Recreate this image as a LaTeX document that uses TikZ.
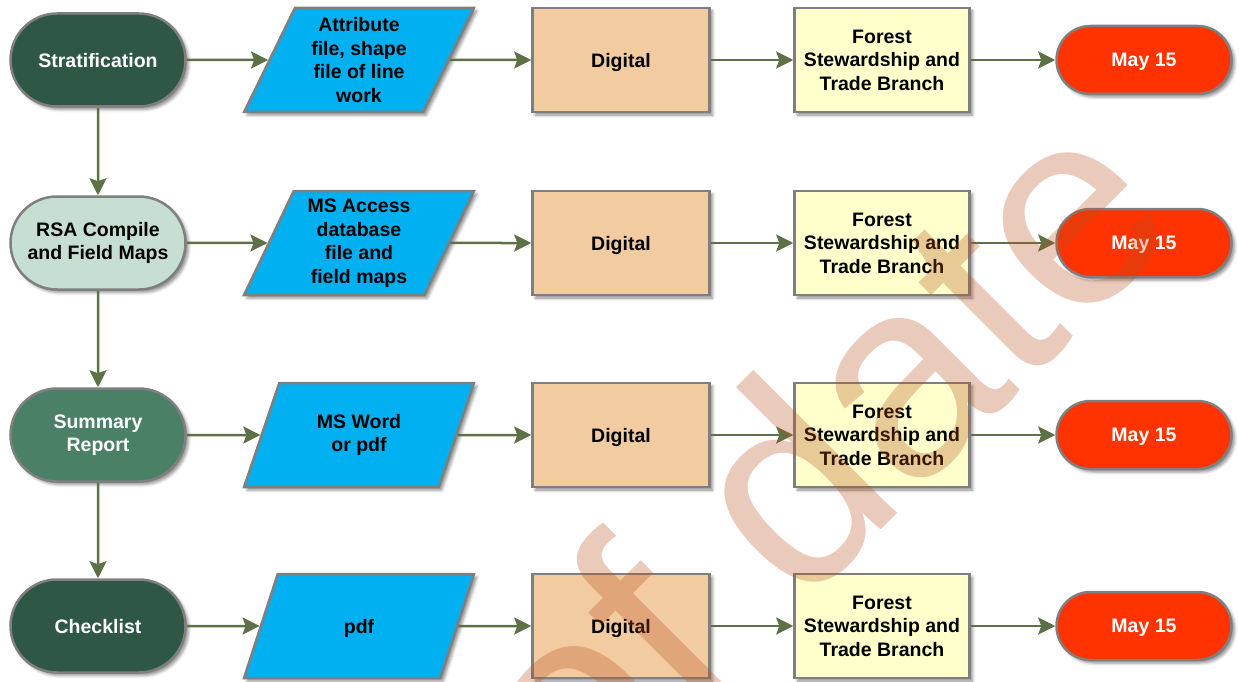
\documentclass[tikz,border=0pt]{standalone}
\usepackage{fontspec}
\setmainfont{Liberation Sans}
\usetikzlibrary{shapes.misc,shapes.geometric,arrows.meta,shadows.blur}

\definecolor{dkgreen}{HTML}{2E5746}
\definecolor{mint}{HTML}{C6DFD2}
\definecolor{midgreen}{HTML}{4A8066}
\definecolor{cyanfill}{HTML}{00B0F0}
\definecolor{peach}{HTML}{F3CBA0}
\definecolor{ltyellow}{HTML}{FFFFCC}
\definecolor{datered}{HTML}{FF3300}
\definecolor{bordergray}{HTML}{7F7F7F}
\definecolor{arrowgreen}{HTML}{5E7146}
\definecolor{wmcolor}{HTML}{B5501E}

\tikzset{
  boxbase/.style={draw=bordergray, line width=2.5pt, align=center, inner sep=0pt,
    font=\bfseries\fontsize{19.5}{23.5}\selectfont,
    blur shadow={shadow xshift=3pt, shadow yshift=-3pt, shadow blur radius=3pt, shadow opacity=45}},
  oneline/.style={text depth=0pt},
  term/.style={boxbase, rounded rectangle, minimum width=175pt, minimum height=93pt},
  iobox/.style={boxbase, trapezium, trapezium left angle=66, trapezium right angle=114,
    trapezium stretches=true, minimum width=230pt, minimum height=104pt, fill=cyanfill},
  digibox/.style={boxbase, oneline, rectangle, minimum width=177pt, minimum height=104pt, fill=peach},
  branchbox/.style={boxbase, rectangle, minimum width=175pt, minimum height=104pt, fill=ltyellow},
  datebox/.style={boxbase, oneline, rounded rectangle, minimum width=175pt, minimum height=68pt, fill=datered, text=white},
  flow/.style={draw=arrowgreen, line width=2.5pt, -{Stealth[length=17pt,width=17pt,inset=3pt]}},
}

\begin{document}
\begin{tikzpicture}[x=1pt,y=-1pt]
\useasboundingbox (0,0) rectangle (1239,682);

% column 1
\node[term, oneline, fill=dkgreen, text=white] (s1) at (98,60) {Stratification};
\node[term, fill=mint] (s2) at (98,243) {RSA Compile\\and Field Maps};
\node[term, fill=midgreen, text=white] (s3) at (98,435) {Summary\\Report};
\node[term, oneline, fill=dkgreen, text=white] (s4) at (98,626) {Checklist};

% column 2
\node[iobox] (p1) at (359,60) {Attribute\\file, shape\\file of line\\work};
\node[iobox] (p2) at (359,243) {MS Access\\database\\file and\\field maps};
\node[iobox] (p3) at (359,435) {MS Word\\or pdf};
\node[iobox, oneline] (p4) at (359,626) {pdf};

% column 3
\node[digibox] (d1) at (621,60) {Digital};
\node[digibox] (d2) at (621,243) {Digital};
\node[digibox] (d3) at (621,435) {Digital};
\node[digibox] (d4) at (621,626) {Digital};

% column 4
\node[branchbox] (b1) at (882,60) {Forest\\Stewardship and\\Trade Branch};
\node[branchbox] (b2) at (882,243) {Forest\\Stewardship and\\Trade Branch};
\node[branchbox] (b3) at (882,435) {Forest\\Stewardship and\\Trade Branch};
\node[branchbox] (b4) at (882,626) {Forest\\Stewardship and\\Trade Branch};

% column 5
\node[datebox] (m1) at (1144,60) {May 15};
\node[datebox] (m2) at (1144,243) {May 15};
\node[datebox] (m3) at (1144,435) {May 15};
\node[datebox] (m4) at (1144,626) {May 15};

% connectors
\draw[flow] (s1) -- (s2);
\draw[flow] (s2) -- (s3);
\draw[flow] (s3) -- (s4);
\foreach \i in {1,2,3,4}{
  \draw[flow] (s\i) -- (p\i);
  \draw[flow] (p\i) -- (d\i);
  \draw[flow] (d\i) -- (b\i);
  \draw[flow] (b\i) -- (m\i);
}

% watermark
\begin{scope}
\clip (0,0) rectangle (1239,682);
\node[rotate=45, anchor=base west, inner sep=0pt, text=wmcolor, text opacity=0.3,
  font=\fontsize{280}{280}\selectfont] (wm) at (580,831) {of date};
\end{scope}
\end{tikzpicture}
\end{document}
